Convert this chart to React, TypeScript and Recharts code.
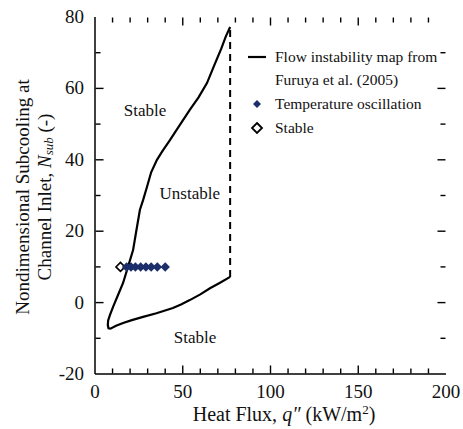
import React from 'react';
import { ScatterChart, Scatter, XAxis, YAxis, ReferenceDot } from 'recharts';

// Furuya et al. (2005) boundary, traced from top of upper branch round to end of lower branch
const boundaryX = [77, 74.5, 72, 68, 63.8, 59, 54, 48, 42.7, 38.5, 35.3, 32, 29.6, 27.4, 25.6, 23.5, 21.7, 18.8, 16, 13, 10.3, 8.5, 7.5, 7.3, 7.7, 8.8, 12, 16, 21, 27.4, 35, 44.4, 49, 54, 60, 65.5, 71, 77];
const boundaryY = [77.2, 74.5, 71.2, 66.5, 61.5, 57.5, 54, 49.5, 45.5, 42.5, 40, 36.5, 32.4, 28.7, 26, 20, 14.7, 10, 5.5, 2, -1.2, -3.5, -5, -6.3, -7.2, -7.3, -6.5, -5.7, -4.9, -4, -3, -1.5, -0.5, 0.7, 2.3, 4, 5.5, 7.2];
const limitX = [77, 77];
const limitY = [7.2, 77.2];
const oscX = [18, 20.5, 23, 26, 29, 32, 35.5, 40];
const oscY = [10, 10, 10, 10, 10, 10, 10, 10];
const stableX = [14.5];
const stableY = [10];

const xTicks = [0, 10, 20, 30, 40, 50, 60, 70, 80, 90, 100, 110, 120, 130, 140, 150, 160, 170, 180, 190, 200];
const yTicks = [-20, -10, 0, 10, 20, 30, 40, 50, 60, 70, 80];

const zip = (xs: number[], ys: number[]) => xs.map((x, i) => ({ x, y: ys[i] }));
const boundary = zip(boundaryX, boundaryY);
const limit = zip(limitX, limitY);
const osc = zip(oscX, oscY);
const stable = zip(stableX, stableY);

// anchor points of the inward frame ticks, nudged just inside the box
const innerX = xTicks.filter((v) => v > 0 && v < 200);
const innerY = yTicks.filter((v) => v > -20 && v < 80);
const bottomMarks = innerX.map((v) => ({ x: v, y: -19.85, len: v % 50 === 0 ? 8 : 5 }));
const topMarks = innerX.map((v) => ({ x: v, y: 79.85, len: v % 50 === 0 ? 8 : 5 }));
const leftMarks = innerY.map((v) => ({ x: 0.3, y: v, len: v % 20 === 0 ? 8 : 5 }));
const rightMarks = innerY.map((v) => ({ x: 199.7, y: v, len: v % 20 === 0 ? 8 : 5 }));

const FONT = '"Liberation Serif", "DejaVu Serif", serif';
const NAVY = '#1c2f6b';
const txt = { fontFamily: FONT, fill: '#111' };

const tickMark = (dx: number, dy: number) => (p: any) => {
  const len = Number((p.payload && p.payload.len) || p.len || 5);
  return (
    <g>
      <line x1={p.cx} y1={p.cy} x2={p.cx + dx * len} y2={p.cy + dy * len} stroke="#000" strokeWidth={1.4} />
    </g>
  );
};

const BottomTick = (p: any) => {
  const v = p.payload.value;
  if (v % 50 !== 0) return <g />;
  return (
    <text x={p.x} y={Number(p.y) + 24} textAnchor="middle" style={{ ...txt, fontSize: 19 }}>
      {v}
    </text>
  );
};

const LeftTick = (p: any) => {
  const v = p.payload.value;
  if (v % 20 !== 0) return <g />;
  return (
    <text x={Number(p.x) - 11} y={Number(p.y) + 6} textAnchor="end" style={{ ...txt, fontSize: 19 }}>
      {v}
    </text>
  );
};

const Diamond = (fill: string, stroke: string, r: number) => (p: any) => (
  <polygon
    points={`${p.cx},${p.cy - r} ${p.cx + r},${p.cy} ${p.cx},${p.cy + r} ${p.cx - r},${p.cy}`}
    fill={fill}
    stroke={stroke}
    strokeWidth={1.6}
  />
);

const NoDot = () => <g />;

const regionLabel = (text: string) => (props: any) => {
  const vb = props.viewBox || {};
  const cx = vb.x + (vb.width || 0) / 2;
  const cy = vb.y + (vb.height || 0) / 2;
  return (
    <text x={cx} y={cy + 6} textAnchor="middle" style={{ ...txt, fontSize: 17 }}>
      {text}
    </text>
  );
};

const XTitle = () => (
  <text x={284} y={421} textAnchor="middle" style={{ ...txt, fontSize: 20 }}>
    Heat Flux, <tspan style={{ fontStyle: 'italic' }}>q″</tspan> (kW/m
    <tspan dy={-7} style={{ fontSize: 13 }}>2</tspan>
    <tspan dy={7}>)</tspan>
  </text>
);

const YTitle = () => (
  <g style={{ ...txt, fontSize: 19 }}>
    <text x={22} y={197} textAnchor="middle" dominantBaseline="central" transform="rotate(-90, 22, 197)">
      Nondimensional Subcooling at
    </text>
    <text x={44} y={197} textAnchor="middle" dominantBaseline="central" transform="rotate(-90, 44, 197)">
      Channel Inlet, <tspan style={{ fontStyle: 'italic' }}>N</tspan>
      <tspan style={{ fontStyle: 'italic', fontSize: 13 }} dy={4}>sub</tspan>
      <tspan dy={-4}> (-)</tspan>
    </text>
  </g>
);

const LegendOverlay = () => (
  <svg width={463} height={429} style={{ position: 'absolute', left: 0, top: 0, pointerEvents: 'none' }}>
    <g style={{ ...txt, fontSize: 15.5 }}>
      <line x1={248} y1={57} x2={266} y2={57} stroke="#000" strokeWidth={2.2} />
      <text x={275} y={62}>Flow instability map from</text>
      <text x={275} y={85}>Furuya et al. (2005)</text>
      <polygon points="257,100 261,104 257,108 253,104" fill={NAVY} />
      <text x={275} y={109}>Temperature oscillation</text>
      <polygon points="257,123 262,128 257,133 252,128" fill="#fff" stroke="#000" strokeWidth={1.8} />
      <text x={275} y={133}>Stable</text>
    </g>
  </svg>
);

export default function App() {
  return (
    <div style={{ position: 'absolute', left: 0, top: 0, width: 463, height: 429, background: '#fff' }}>
      <ScatterChart width={463} height={429} margin={{ top: 17, right: 17, left: 0, bottom: 0 }}>
        <XAxis
          xAxisId="b"
          type="number"
          dataKey="x"
          domain={[0, 200]}
          ticks={xTicks}
          interval={0}
          tickSize={0}
          tickMargin={0}
          tickLine={false}
          tick={BottomTick}
          axisLine={{ stroke: '#000', strokeWidth: 1.5 }}
          height={55}
          label={{ content: XTitle }}
        />
        <XAxis
          xAxisId="t"
          orientation="top"
          type="number"
          dataKey="x"
          domain={[0, 200]}
          tick={false}
          tickLine={false}
          axisLine={{ stroke: '#000', strokeWidth: 1.5 }}
          height={0}
        />
        <YAxis
          yAxisId="l"
          type="number"
          dataKey="y"
          domain={[-20, 80]}
          ticks={yTicks}
          interval={0}
          tickSize={0}
          tickMargin={0}
          tickLine={false}
          tick={LeftTick}
          axisLine={{ stroke: '#000', strokeWidth: 1.5 }}
          width={95}
          label={{ content: YTitle }}
        />
        <YAxis
          yAxisId="r"
          orientation="right"
          type="number"
          dataKey="y"
          domain={[-20, 80]}
          tick={false}
          tickLine={false}
          axisLine={{ stroke: '#000', strokeWidth: 1.5 }}
          width={0}
        />
        <Scatter xAxisId="b" yAxisId="l" data={bottomMarks} shape={tickMark(0, -1)} isAnimationActive={false} />
        <Scatter xAxisId="b" yAxisId="l" data={topMarks} shape={tickMark(0, 1)} isAnimationActive={false} />
        <Scatter xAxisId="b" yAxisId="l" data={leftMarks} shape={tickMark(1, 0)} isAnimationActive={false} />
        <Scatter xAxisId="b" yAxisId="l" data={rightMarks} shape={tickMark(-1, 0)} isAnimationActive={false} />
        <Scatter
          xAxisId="b"
          yAxisId="l"
          data={boundary}
          line={{ stroke: '#000', strokeWidth: 2.2, fill: 'none' }}
          lineType="joint"
          shape={NoDot}
          isAnimationActive={false}
        />
        <Scatter
          xAxisId="b"
          yAxisId="l"
          data={limit}
          line={{ stroke: '#000', strokeWidth: 2, strokeDasharray: '7 5', fill: 'none' }}
          lineType="joint"
          shape={NoDot}
          isAnimationActive={false}
        />
        <Scatter xAxisId="b" yAxisId="l" data={stable} shape={Diamond('#fff', '#000', 4.5)} isAnimationActive={false} />
        <Scatter xAxisId="b" yAxisId="l" data={osc} shape={Diamond(NAVY, NAVY, 3.6)} isAnimationActive={false} />
        <ReferenceDot xAxisId="b" yAxisId="l" x={28.5} y={54} r={0} label={{ content: regionLabel('Stable') }} />
        <ReferenceDot xAxisId="b" yAxisId="l" x={54} y={30.7} r={0} label={{ content: regionLabel('Unstable') }} />
        <ReferenceDot xAxisId="b" yAxisId="l" x={57} y={-9.6} r={0} label={{ content: regionLabel('Stable') }} />
      </ScatterChart>
      <LegendOverlay />
    </div>
  );
}
